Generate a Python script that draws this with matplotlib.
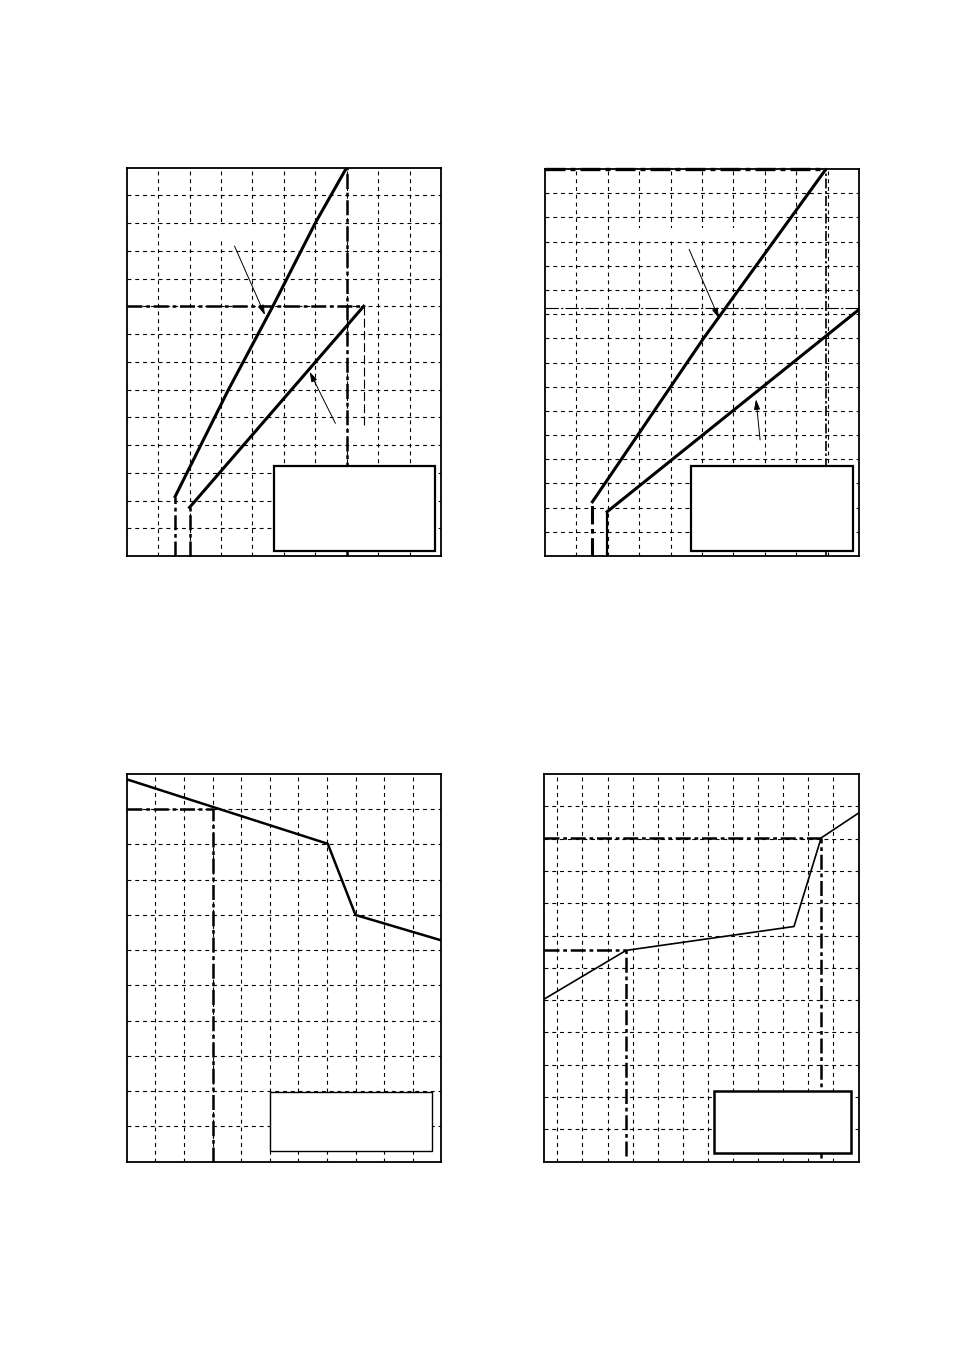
import matplotlib
matplotlib.use("Agg")
import matplotlib.pyplot as plt
from matplotlib.patches import Rectangle
import numpy as np

# ---- panel 1 (top left), grid units: x 0..10, y 0..14
p1_line_a_x = [1.54, 3.24, 4.65, 6.0, 7.0]
p1_line_a_y = [2.14, 6.0, 9.0, 12.0, 14.0]
p1_line_b_x = [2.0, 7.54]
p1_line_b_y = [1.75, 9.0]
p1_ref_y = 9.0
p1_ref_x = 7.0
p1_ref_x_end = 7.54
p1_ref_x_stop = 4.67

# ---- panel 2 (top right), grid units: x 0..10, y 0..16
p2_line_a_x = [1.51, 5.05, 8.95]
p2_line_a_y = [2.24, 9.0, 16.0]
p2_line_b_x = [1.98, 9.98]
p2_line_b_y = [1.83, 10.17]
p2_ref_x = 8.95
p2_ref_y_top = 16.0
p2_ref_y = 10.26

# ---- panel 3 (bottom left), grid units: x 0..11, y 0..11
p3_x = [0.0, 7.03, 8.0, 11.0]
p3_y = [10.85, 9.02, 7.0, 6.28]
p3_ref_x = 3.0
p3_ref_y = 10.0

# ---- panel 4 (bottom right), grid units: x 0.47..13.02, y 0..12
p4_x = [0.47, 3.74, 10.43, 11.51, 13.02]
p4_y = [5.03, 6.54, 7.28, 10.02, 10.80]
p4_ref_x = [3.74, 11.51]
p4_ref_y = [6.54, 10.02]

W, H = 954, 1351
fig = plt.figure(figsize=(W / 100, H / 100), dpi=100)
fig.patch.set_facecolor("white")


def make_ax(left, right, top, bottom, xlim, ylim, xticks, yticks):
    ax = fig.add_axes([left / W, 1 - bottom / H, (right - left) / W, (bottom - top) / H])
    ax.set_xlim(*xlim)
    ax.set_ylim(*ylim)
    ax.set_xticks(xticks)
    ax.set_yticks(yticks)
    ax.tick_params(length=0, labelbottom=False, labelleft=False)
    ax.grid(True, color="black", lw=0.8, ls=(0, (3.5, 3.5)))
    ax.set_axisbelow(True)
    for s in ax.spines.values():
        s.set_linewidth(1.3)
        s.set_zorder(6)
    return ax


def dashdot(ax, xs, ys, lw=1.8, z=3):
    ax.plot(xs, ys, color="black", lw=lw, dashes=(6, 1.5, 1.5, 1.5),
            solid_capstyle="butt", dash_capstyle="butt", zorder=z, clip_on=False)


def box(ax, x0, y0, x1, y1, lw=1.5):
    ax.add_patch(Rectangle((x0, y0), x1 - x0, y1 - y0, facecolor="white",
                           edgecolor="black", lw=lw, zorder=5))


def blank(ax, x0, y0, x1, y1):
    ax.add_patch(Rectangle((x0, y0), x1 - x0, y1 - y0, facecolor="white",
                           edgecolor="none", zorder=1.5))


def arrow(ax, xy_from, xy_to):
    ax.annotate("", xy=xy_to, xytext=xy_from, zorder=4,
                arrowprops=dict(arrowstyle="-|>,head_length=0.6,head_width=0.18",
                                color="black", lw=0.7, shrinkA=0, shrinkB=0))


# panel 1
ax1 = make_ax(126.7, 441, 167.5, 556, (0, 10), (0, 14), range(1, 10), range(1, 14))
blank(ax1, 1.3, 11.35, 4.3, 11.9)
ax1.plot(p1_line_a_x, p1_line_a_y, color="black", lw=2.2, zorder=4)
ax1.plot(p1_line_b_x, p1_line_b_y, color="black", lw=2.2, zorder=4)
dashdot(ax1, [p1_line_a_x[0]] * 2, [0, p1_line_a_y[0]])
dashdot(ax1, [p1_line_b_x[0]] * 2, [0, p1_line_b_y[0]])
dashdot(ax1, [0, p1_ref_x_end], [p1_ref_y] * 2)
dashdot(ax1, [p1_ref_x] * 2, [0, 14])
ax1.plot([p1_ref_x_end] * 2, [p1_ref_y, p1_ref_x_stop], color="black", lw=0.8,
         dashes=(8, 3), zorder=3)
arrow(ax1, (3.43, 11.17), (4.40, 8.68))
arrow(ax1, (6.64, 4.78), (5.82, 6.64))
box(ax1, 4.69, 0.19, 9.82, 3.25, lw=1.6)

# panel 2
ax2 = make_ax(545, 859, 169, 556, (0, 10), (0, 16), range(1, 10), range(1, 16))
blank(ax2, 2.4, 13.15, 6.35, 13.56)
ax2.plot(p2_line_a_x, p2_line_a_y, color="black", lw=2.2, zorder=4)
ax2.plot(p2_line_b_x, p2_line_b_y, color="black", lw=2.2, zorder=4)
dashdot(ax2, [p2_line_a_x[0]] * 2, [0, p2_line_a_y[0]], lw=2.2)
ax2.plot([p2_line_b_x[0]] * 2, [0, p2_line_b_y[0]], color="black", lw=1.6, zorder=3)
dashdot(ax2, [0, p2_ref_x], [p2_ref_y_top] * 2, lw=2.4)
dashdot(ax2, [p2_ref_x] * 2, [0, p2_ref_y_top], lw=1.2)
ax2.plot([0, 10], [p2_ref_y] * 2, color="black", lw=0.8, dashes=(12, 2, 2, 2), zorder=3)
arrow(ax2, (4.59, 12.68), (5.54, 9.83))
arrow(ax2, (6.85, 4.80), (6.72, 6.48))
box(ax2, 4.65, 0.22, 9.82, 3.73, lw=1.6)

# panel 3
ax3 = make_ax(126.7, 441.3, 774, 1161.7, (0, 11), (0, 11), range(1, 11), range(1, 11))
ax3.plot(p3_x, p3_y, color="black", lw=1.8, zorder=4)
dashdot(ax3, [0, p3_ref_x], [p3_ref_y] * 2)
dashdot(ax3, [p3_ref_x] * 2, [0, p3_ref_y])
box(ax3, 5.01, 0.30, 10.66, 1.99, lw=1.0)

# panel 4
ax4 = make_ax(544, 859, 774, 1161.7, (0.47, 13.02), (0, 12), range(1, 13), range(1, 12))
ax4.plot(p4_x, p4_y, color="black", lw=1.2, zorder=4)
for rx, ry, yb in zip(p4_ref_x, p4_ref_y, [0.18, 0.1]):
    dashdot(ax4, [p4_x[0], rx], [ry, ry])
    dashdot(ax4, [rx, rx], [yb, ry])
box(ax4, 7.24, 0.28, 12.70, 2.19, lw=1.8)

fig.savefig("out.png", dpi=100, facecolor="white")
